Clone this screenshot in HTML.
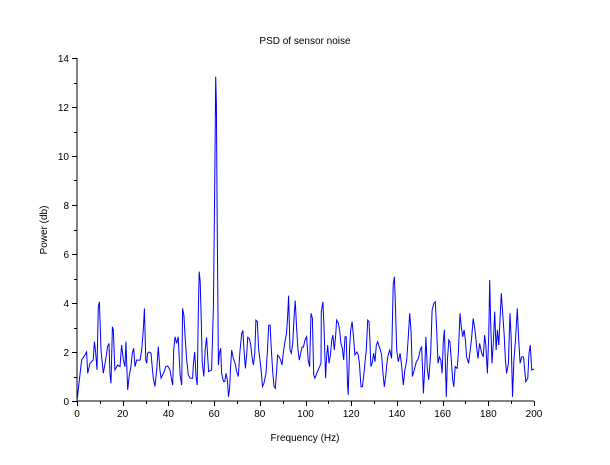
<!DOCTYPE html>
<html><head><meta charset="utf-8"><style>
body{margin:0;background:#fff;}
svg text{font-family:"Liberation Sans",sans-serif;font-size:10px;fill:#000;}
</style></head><body>
<svg id="chart" width="610" height="460" xmlns="http://www.w3.org/2000/svg">
<text x="305" y="44" text-anchor="middle">PSD of sensor noise</text>
<text x="305" y="441" text-anchor="middle">Frequency (Hz)</text>
<text x="47" y="230" text-anchor="middle" transform="rotate(-90 47 230)">Power (db)</text>
<g id="axes"></g>
<polyline id="line" fill="none" stroke="#0000ff" stroke-width="1"/>
</svg>
<script>
const xTicks=[0,20,40,60,80,100,120,140,160,180,200];
const yTicks=[0,2,4,6,8,10,12,14];
const freq=[0,2.0,3.5,4.2,4.7,5.7,7.1,7.6,8.2,8.75,9.3,9.8,10.5,11.5,12.5,13.4,14.0,14.4,14.9,15.5,15.9,16.6,17.8,18.8,19.5,20.3,21.0,21.4,22.2,22.8,23.6,24.2,24.8,25.4,26.1,27.6,28.3,29.0,29.5,30.1,30.5,30.9,31.5,32.4,32.9,33.4,34.1,34.9,35.6,36.3,36.8,37.4,38.2,38.8,39.7,40.7,41.4,41.9,42.3,42.9,43.6,44.3,45.1,45.8,46.2,46.8,47.3,48.0,48.7,49.5,50.6,
50.9,51.5,52.1,52.6,53.1,53.5,53.9,54.4,54.8,55.5,56.1,56.7,57.2,57.6,58.9,59.7,60.3,60.7,61.0,61.4,61.9,62.3,62.9,63.3,64.1,64.7,65.2,65.8,66.3,66.8,67.2,67.7,68.4,69.2,69.9,70.6,71.3,72.1,72.6,73.1,73.7,74.3,74.7,75.4,76.0,76.6,77.2,77.8,78.3,78.9,79.5,80.1,80.7,81.2,81.8,82.7,83.3,83.9,84.5,85.0,85.6,86.2,86.8,87.4,87.8,88.5,89.1,89.7,90.3,91.0,91.7,92.2,92.6,93.2,93.8,94.4,95.0,95.5,96.1,96.7,97.3,97.9,98.5,99.1,
99.8,100.5,101.2,101.8,102.4,103.0,103.6,104.1,104.9,105.8,106.8,106.9,107.6,108.1,108.8,109.2,109.7,110.3,110.9,111.5,112.0,112.6,113.2,113.6,114.4,115.0,115.5,116.1,116.7,117.3,117.8,118.4,118.7,119.3,119.8,120.4,121.0,121.6,122.5,123.1,123.6,124.3,124.9,125.5,126.0,126.6,127.2,127.8,128.2,128.6,129.3,129.8,130.4,131.0,131.6,132.2,132.8,133.3,133.9,134.5,135.1,135.7,136.2,136.9,137.7,138.4,138.9,139.3,139.9,140.6,141.4,142.1,142.8,143.5,144.3,145.0,145.6,146.2,146.8,147.6,148.5,149.4,150.2,
150.8,151.3,151.6,152.2,152.7,153.3,153.9,154.8,155.4,156.2,156.8,157.4,158.0,158.6,159.2,159.8,160.3,160.8,161.2,161.6,162.1,162.7,163.2,163.8,164.4,164.9,165.5,166.4,166.9,167.6,168.2,168.8,169.4,170.0,170.5,171.4,172.0,172.7,173.4,174.2,174.9,175.5,176.2,177.1,177.8,178.4,178.9,179.6,180.2,180.6,181.0,181.6,182.2,182.8,183.4,184.0,184.6,185.1,185.7,186.3,186.9,187.5,188.0,188.8,189.5,190.0,190.6,191.2,191.9,192.7,193.3,193.9,194.6,195.4,195.8,196.4,197.3,197.8,198.4,199.0,200];
const power=[0,1.67,1.88,2.0,1.13,1.54,1.67,2.42,1.95,1.27,3.85,4.05,2.08,1.13,1.67,2.22,2.35,1.13,0.72,3.03,2.9,1.27,1.47,1.4,2.28,1.67,1.4,2.42,0.45,1.0,1.4,1.95,2.15,1.4,1.67,1.67,2.08,2.9,3.78,1.67,1.54,1.95,2.0,1.95,1.4,0.93,0.59,1.27,2.22,1.27,0.93,1.06,1.2,1.4,1.43,1.27,0.86,0.65,2.08,2.62,2.35,2.62,1.06,0.65,3.78,3.5,2.62,1.67,1.06,0.93,0.93,
1.47,2.0,1.0,0.65,3.57,5.28,4.87,3.24,1.6,1.0,2.08,2.6,1.8,1.2,1.26,3.84,9.08,13.24,12.08,6.77,1.47,1.95,2.15,1.13,0.79,0.79,1.13,0.86,0.17,0.5,1.4,2.08,1.74,1.54,1.2,1.0,2.0,2.75,2.88,2.08,1.33,1.95,2.6,2.55,2.3,1.8,1.47,1.95,3.3,3.24,2.08,1.67,1.13,0.59,0.72,1.13,1.95,3.1,3.1,2.2,1.26,0.59,0.52,1.26,1.87,1.8,1.67,1.47,1.95,2.42,2.75,3.5,4.3,2.08,1.95,2.35,3.43,4.1,3.0,2.08,1.67,1.95,2.2,2.2,
2.49,2.62,1.67,1.4,3.58,3.37,1.06,0.93,1.13,1.33,1.54,3.65,4.05,3.03,0.93,1.74,2.28,1.54,1.88,2.49,2.69,2.08,2.69,3.3,3.17,2.83,2.35,2.15,1.67,2.62,2.62,0.72,0.25,2.15,2.9,3.24,2.62,1.88,2.0,1.88,1.54,0.58,0.58,1.06,1.54,2.08,3.3,3.24,2.49,1.4,1.6,1.95,1.6,2.28,2.42,2.22,2.08,1.88,1.13,0.58,1.0,1.6,1.88,2.08,1.74,4.73,5.07,4.05,2.08,1.6,1.95,1.4,0.65,1.27,1.67,2.62,3.58,2.83,1.0,1.27,1.6,1.74,2.08,
2.22,1.13,0.31,1.4,2.62,1.33,0.86,1.95,3.71,3.99,4.05,2.9,1.54,1.8,1.67,1.13,2.42,2.9,1.67,0.17,1.67,2.49,2.42,1.67,0.86,0.58,1.4,1.33,2.0,3.58,3.03,2.62,2.9,2.49,1.8,1.54,2.0,2.56,3.37,2.9,2.22,1.74,2.35,1.95,1.8,2.69,2.28,1.13,2.76,4.94,3.3,1.54,2.35,3.65,2.08,2.9,2.28,3.3,4.4,3.58,2.76,1.67,1.13,1.54,3.58,2.62,0.17,1.67,2.49,3.78,2.49,1.54,1.8,1.8,1.4,0.79,0.93,1.95,2.28,1.27,1.3];
const X0=77,X1=534,Y0=401,Y1=58;
const xs=v=>X0+(v-0)/200*(X1-X0);
const ys=v=>Y0-(v/14)*(Y0-Y1);
const NS="http://www.w3.org/2000/svg";
const ax=document.getElementById('axes');
function mk(tag,attrs){const e=document.createElementNS(NS,tag);for(const k in attrs)e.setAttribute(k,attrs[k]);ax.appendChild(e);return e;}
const xl=mk('line',{x1:X0,y1:Y0,x2:X1,y2:Y0,stroke:'#000'});


const yl=mk('line',{x1:X0,y1:Y0,x2:X0,y2:Y1,stroke:'#000'});


xTicks.forEach((t,i)=>{
  const x=Math.round(xs(t))+0.5;
  mk('line',{x1:x,y1:Y0,x2:x,y2:Y0+5,stroke:'#000'});
  if(i<xTicks.length-1){const xm=Math.round(xs(t+10))+0.5;mk('line',{x1:xm,y1:Y0,x2:xm,y2:Y0+3,stroke:'#000'});}
  const tx=mk('text',{x:xs(t),y:Y0+16,'text-anchor':'middle'});tx.textContent=t;
  
  
});
yTicks.forEach((t,i)=>{
  const y=Math.round(ys(t))+0.5;
  mk('line',{x1:X0-5,y1:y,x2:X0,y2:y,stroke:'#000'});
  if(i<yTicks.length-1){const ym=Math.round(ys(t+1))+0.5;mk('line',{x1:X0-3,y1:ym,x2:X0,y2:ym,stroke:'#000'});}
  const tx=mk('text',{x:X0-8,y:ys(t)+4,'text-anchor':'end'});tx.textContent=t;
  
  
});
document.getElementById('line').setAttribute('points',freq.map((f,i)=>xs(f).toFixed(1)+','+ys(power[i]).toFixed(1)).join(' '));
</script>
</body></html>
